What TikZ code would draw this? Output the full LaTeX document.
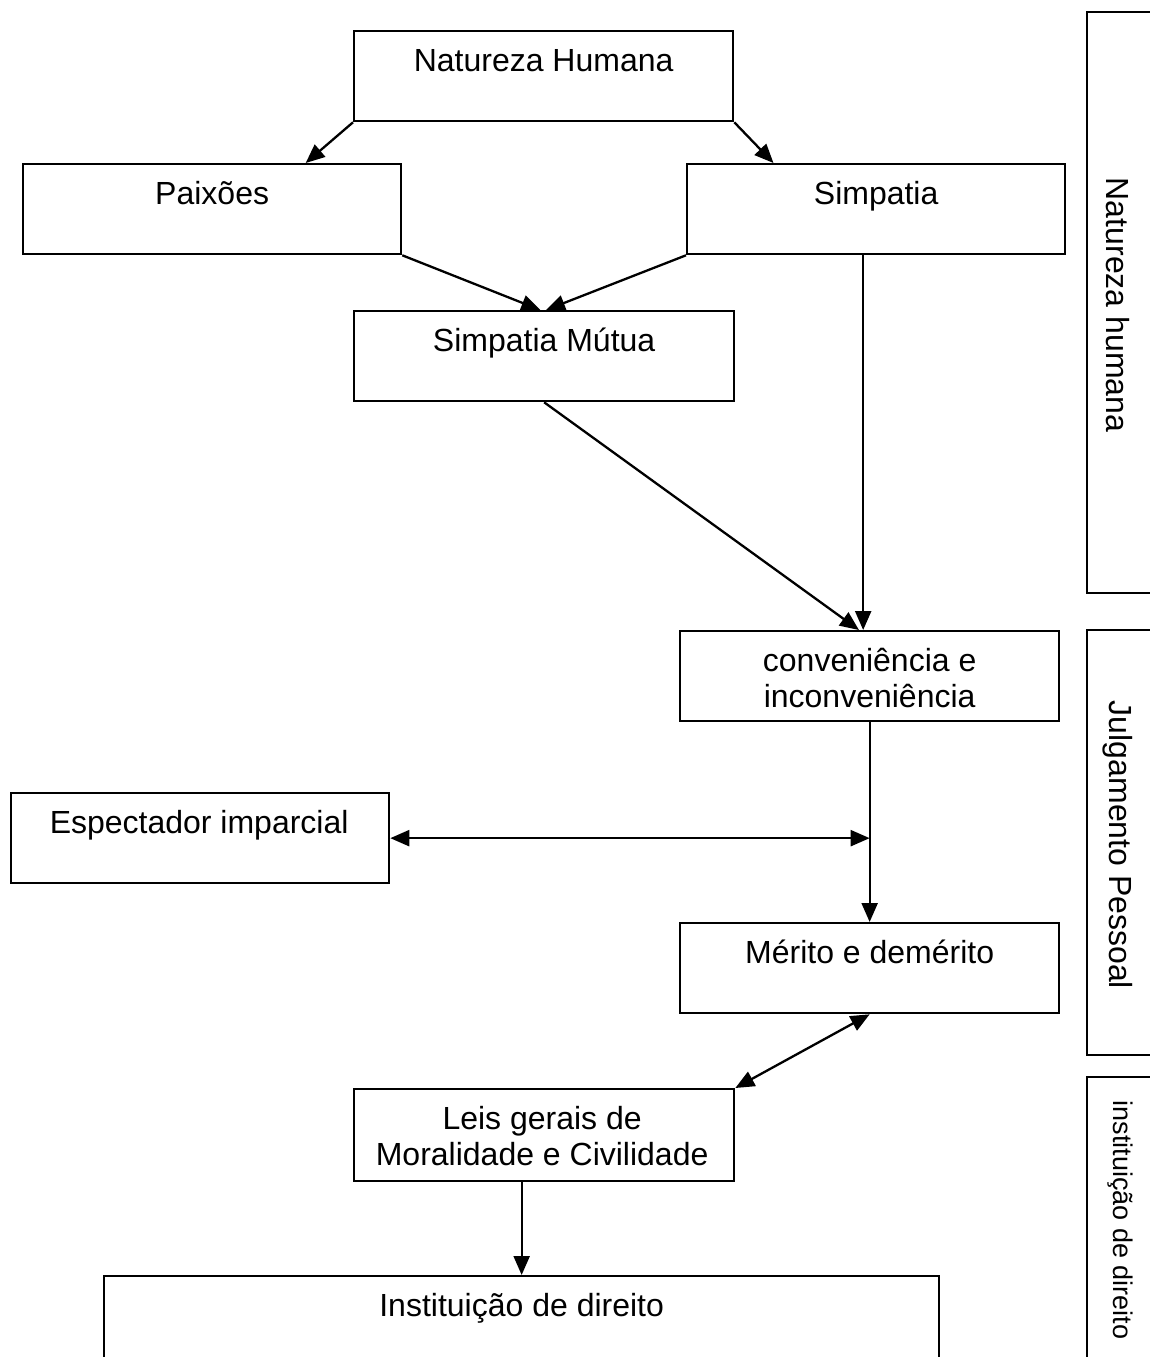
\documentclass[tikz,border=0pt]{standalone}
\usepackage{fontspec}
\setmainfont{Liberation Sans}
\usetikzlibrary{arrows.meta,calc}
\begin{document}
\begin{tikzpicture}[x=1pt,y=-1pt,
  box/.style={draw=black, line width=2.3pt, rectangle, inner sep=0pt, anchor=north west, minimum height=90pt},
  lbl/.style={font=\fontsize{32}{36}\selectfont, anchor=base, align=center, inner sep=0pt},
  side/.style={font=\fontsize{32}{36}\selectfont, rotate=-90, inner sep=0pt},
  sidesmall/.style={font=\fontsize{27}{30}\selectfont, rotate=-90, inner sep=0pt},
  frame/.style={draw=black, line width=2.3pt},
  arr/.style={-{Triangle[length=19pt,width=16pt]}, line width=2.3pt},
  darr/.style={{Triangle[length=19pt,width=16pt]}-{Triangle[length=19pt,width=16pt]}, line width=2.3pt}]
\useasboundingbox (0,0) rectangle (1150,1357);
% boxes
\node[box, minimum width=379pt] (nh) at (353,30) {};
\node[box, minimum width=378pt] (px) at (22,163) {};
\node[box, minimum width=378pt] (sim) at (686,163) {};
\node[box, minimum width=380pt] (sm) at (353,310) {};
\node[box, minimum width=379pt] (conv) at (679,630) {};
\node[box, minimum width=378pt] (esp) at (10,792) {};
\node[box, minimum width=379pt] (mer) at (679,922) {};
\node[box, minimum width=380pt, minimum height=92pt] (leis) at (353,1088) {};
\node[box, minimum width=835pt, minimum height=200pt] (inst) at (103,1275) {};
% texts
\node[lbl] (nht) at ($(nh.north)+(0,41)$) {Natureza Humana};
\node[lbl] (pxt) at ($(px.north)+(0,41)$) {Paixões};
\node[lbl] (simt) at ($(sim.north)+(0,41)$) {Simpatia};
\node[lbl] (smt) at ($(sm.north)+(0,41)$) {Simpatia Mútua};
\node[lbl] (convt) at ($(conv.north)+(0,77)$) {conveniência e\\inconveniência};
\node[lbl] (espt) at ($(esp.north)+(-1,41)$) {Espectador imparcial};
\node[lbl] (mert) at ($(mer.north)+(0,41)$) {Mérito e demérito};
\node[lbl] (leist) at ($(leis.north)+(-2,77)$) {Leis gerais de\\Moralidade e Civilidade};
\node[lbl] (instt) at ($(inst.north)+(0,41)$) {Instituição de direito};
% side frames
\draw[frame] (1165,12) -- (1087,12) -- (1087,593) -- (1165,593);
\draw[frame] (1165,630) -- (1087,630) -- (1087,1055) -- (1165,1055);
\draw[frame] (1165,1077) -- (1087,1077) -- (1087,1400);
\node[side] (s1) at (1118,305) {Natureza humana};
\node[side] (s2) at (1118,845) {Julgamento Pessoal};
\node[sidesmall] (s3) at (1120,1220) {instituição de direito};
% connectors
\draw[arr] (nh.south west) -- ($(px.north west)!0.746!(px.north east)$);
\draw[arr] (nh.south east) -- ($(sim.north west)!0.23!(sim.north east)$);
\draw[arr] (px.south east) -- ($(sm.north west)!0.49!(sm.north east)$);
\draw[arr] (sim.south west) -- ($(sm.north west)!0.505!(sm.north east)$);
\draw[arr] (sm.south) -- ($(conv.north west)!0.472!(conv.north east)$);
\coordinate (vx) at ($(conv.north west)!0.483!(conv.north east)$);
\draw[arr] (vx |- sim.south) -- (vx);
\draw[arr] (conv.south) -- (mer.north);
\draw[darr] (esp.east) -- (esp.east -| conv.south);
\draw[darr] (mer.south) -- (leis.north east);
\draw[arr] (inst.north |- leis.south) -- (inst.north);
\end{tikzpicture}
\end{document}
